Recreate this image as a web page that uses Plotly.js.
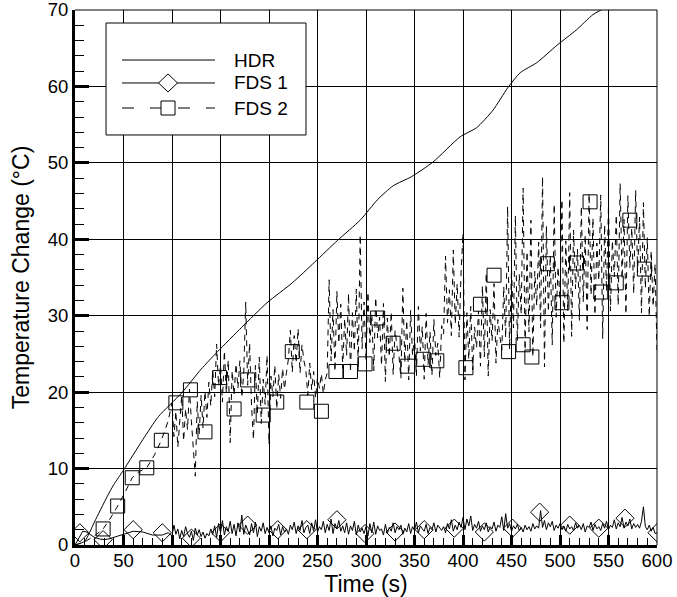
<!DOCTYPE html>
<html>
<head>
<meta charset="utf-8">
<script src="https://cdn.plot.ly/plotly-3.0.1.min.js"></script>
<style>html,body{margin:0;padding:0;background:#fff;}#chart{width:677px;height:597px;}</style>
</head>
<body>
<div id="chart"></div>
<script>
// ---- HDR (measured) ----
const hdrTime = [0, 10, 20, 33, 40, 50, 70, 86, 110, 130, 147, 172, 198, 224, 247, 271, 294, 312, 328, 347, 369, 397, 414, 431, 446, 459, 476, 497, 517, 534, 548, 600];
const hdrTemp = [0, 0.5, 3.0, 6.3, 7.9, 9.8, 13.8, 16.8, 19.9, 23.0, 25.3, 28.5, 31.7, 34.3, 37.0, 39.9, 42.5, 45.2, 47.0, 48.2, 50.1, 53.4, 54.6, 56.9, 59.8, 61.8, 63.1, 65.4, 67.4, 69.4, 70.4, 75.0];

// ---- FDS 1 ----
const fds1EarlyTime = [0, 4, 8, 12, 16, 20, 25, 30, 35, 40, 50, 60, 70, 80, 90, 96];
const fds1EarlyTemp = [0, 0.9, 1.8, 1.7, 1.3, 1.0, 0.8, 0.7, 0.8, 1.0, 1.3, 1.8, 1.7, 1.3, 1.3, 1.6];
const fds1Start = 100, fds1Step = 2;
const fds1Temp = [
  1.2, 2.6, 1.4, 2.1, 0.8, 1.9, 1.1, 2.4, 1.5, 1.0,
  1.8, 0.6, 2.2, 1.3, 2.0, 1.1, 1.7, 0.9, 1.5, 1.2,
  2.1, 1.4, 2.5, 1.0, 2.8, 1.6, 3.2, 1.3, 2.4, 1.8,
  3.1, 1.5, 2.7, 1.2, 2.9, 1.7, 3.9, 1.4, 2.6, 2.0,
  1.3, 2.8, 1.6, 3.0, 1.1, 2.4, 1.8, 2.9, 1.5, 2.3,
  1.6, 2.5, 1.2, 2.2, 1.9, 2.7, 1.3, 2.4, 1.7, 2.1,
  1.4, 2.6, 2.0, 3.0, 1.5, 2.5, 1.9, 3.2, 1.6, 2.3,
  2.6, 1.5, 2.9, 1.8, 3.3, 1.7, 2.4, 2.0, 3.1, 1.6,
  2.7, 1.9, 3.4, 1.5, 2.8, 2.1, 3.2, 1.8, 2.5, 1.6,
  2.9, 1.4, 2.5, 1.9, 3.1, 1.3, 2.6, 1.7, 2.2, 1.5,
  2.4, 1.2, 2.8, 1.6, 3.0, 1.4, 2.5, 1.9, 2.1, 1.3,
  2.7, 1.5, 2.3, 1.8, 2.9, 1.6, 2.4, 2.0, 2.6, 1.4,
  2.2, 1.7, 2.8, 1.5, 2.4, 1.9, 3.0, 1.6, 2.5, 2.1,
  1.8, 2.7, 1.5, 2.3, 2.0, 2.9, 1.7, 2.6, 2.2, 1.9,
  2.4, 1.6, 2.8, 2.1, 3.3, 1.8, 2.6, 2.0, 3.0, 2.3,
  3.6, 2.0, 3.4, 2.5, 3.8, 1.9, 2.7, 2.2, 3.1, 1.8,
  2.5, 2.0, 2.9, 1.7, 2.4, 2.1, 3.0, 1.8, 2.6, 2.3,
  3.7, 1.9, 4.1, 2.2, 2.8, 1.8, 2.5, 2.1, 2.7, 1.9,
  2.3, 1.7, 2.6, 2.0, 2.4, 1.8, 2.8, 2.1, 2.5, 2.2,
  4.5, 2.3, 3.2, 2.0, 2.9, 2.4, 3.1, 1.9, 2.6, 2.2,
  2.8, 2.0, 2.5, 1.8, 2.7, 2.1, 2.4, 1.9, 2.9, 2.2,
  2.6, 2.0, 2.8, 1.7, 2.5, 2.3, 3.0, 1.9, 2.7, 2.1,
  2.4, 1.9, 2.8, 2.2, 3.1, 2.0, 2.6, 2.3, 3.3, 2.1,
  2.9, 2.4, 3.6, 2.2, 3.0, 2.5, 3.4, 2.1, 2.8, 2.3,
  2.7, 2.2, 3.1, 5.0, 2.4, 2.0, 2.6, 1.8, 2.3, 1.5,
  1.6
];
const fds1MarkTime = [5, 29, 60, 90, 120, 150, 178, 209, 239, 270, 299, 330, 360, 391, 422, 451, 479, 510, 540, 567, 600];
const fds1MarkTemp = [1.6, 0.7, 2.0, 1.6, 0.9, 1.6, 2.6, 2.0, 2.0, 3.3, 1.5, 1.7, 2.0, 2.2, 1.7, 2.2, 4.3, 2.6, 2.2, 3.5, 1.6];

// ---- FDS 2 ----
const fds2EarlyTime = [0, 10, 20, 29, 36, 44, 52, 59, 66, 74, 82, 89, 96];
const fds2EarlyTemp = [0, 0.4, 1.2, 2.1, 3.4, 5.1, 7.0, 8.8, 9.6, 10.1, 11.8, 13.7, 16.2];
const fds2Start = 100, fds2Step = 2;
const fds2Temp = [
  18.6, 14.2, 17.5, 12.8, 16.9, 19.5, 13.6, 17.8, 15.1, 20.4,
  16.2, 12.4, 9.0, 18.8, 14.5, 19.6, 15.3, 20.1, 16.7, 21.3,
  18.2, 22.9, 19.4, 26.3, 20.8, 23.5, 18.7, 25.4, 19.9, 24.2,
  13.4, 22.8, 19.6, 23.7, 20.5, 24.1, 19.3, 22.6, 31.8, 20.9,
  26.4, 18.2, 13.8, 23.5, 17.1, 24.6, 15.9, 21.7, 18.4, 24.8,
  13.2, 22.1, 19.4, 23.5, 17.8, 22.3, 19.2, 23.1, 20.4, 22.6,
  24.3, 28.1, 22.6, 27.4, 23.8, 28.3, 22.5, 26.2, 24.1, 22.9,
  19.6, 23.8, 20.3, 22.7, 19.2, 21.9, 20.5, 22.4, 19.8, 21.6,
  22.5, 34.7, 24.1, 30.8, 22.7, 33.2, 26.4, 31.5, 23.1, 29.6,
  24.8, 32.9, 22.6, 30.4, 25.3, 33.5, 23.2, 40.6, 25.7, 31.8,
  24.2, 33.1, 26.5, 30.2, 22.8, 32.4, 27.1, 29.8, 23.5, 31.6,
  21.4, 29.7, 24.6, 30.5, 22.3, 28.1, 25.9, 24.7, 21.8, 33.6,
  23.9, 29.4, 21.6, 30.7, 24.8, 27.3, 22.1, 31.2, 25.4, 28.6,
  21.7, 30.3, 23.6, 27.9, 22.2, 29.5, 24.8, 26.4, 21.9, 28.7,
  27.6, 37.8, 29.1, 33.4, 27.4, 38.6, 28.9, 34.2, 27.2, 35.6,
  40.8, 21.6, 30.4, 24.3, 31.2, 22.9, 28.5, 25.8, 30.6, 23.4,
  33.9, 24.6, 35.6, 22.1, 30.8, 26.7, 34.2, 23.8, 29.5, 27.3,
  25.5, 33.8, 27.1, 44.3, 25.6, 36.2, 28.4, 43.1, 26.7, 35.4,
  30.2, 46.7, 25.5, 38.4, 27.9, 42.5, 24.6, 35.8, 31.3, 39.6,
  28.4, 48.2, 23.3, 41.7, 30.5, 37.9, 26.2, 44.6, 29.8, 36.4,
  32.1, 45.2, 26.4, 39.8, 30.6, 46.1, 27.3, 41.2, 33.5, 38.7,
  29.4, 44.3, 31.8, 40.6, 28.2, 46.0, 32.7, 42.8, 30.1, 39.5,
  34.6, 45.8, 27.0, 41.9, 33.2, 44.5, 30.6, 39.8, 35.1, 43.2,
  31.4, 47.3, 34.8, 42.6, 30.2, 45.7, 36.3, 41.5, 32.9, 46.4,
  35.7, 42.9, 30.4, 44.8, 33.6, 40.2, 29.9, 38.5, 31.2, 36.8,
  25.5
];
const fds2MarkTime = [29, 44, 59, 74, 89, 104, 119, 134, 149, 164, 178, 194, 208, 224, 239, 254, 269, 284, 299, 312, 328, 343, 359, 373, 403, 418, 432, 447, 462, 471, 487, 502, 517, 531, 542, 558, 572, 587];
const fds2MarkTemp = [2.1, 5.1, 8.8, 10.1, 13.7, 18.6, 20.3, 14.8, 21.9, 17.8, 21.6, 17.0, 18.7, 25.3, 18.7, 17.5, 22.7, 22.7, 23.7, 29.7, 26.4, 23.4, 24.3, 24.1, 23.2, 31.5, 35.3, 25.3, 26.2, 24.6, 36.8, 31.7, 36.9, 44.9, 33.1, 34.3, 42.5, 36.1];

// ---- tick labels / legend labels ----
const xTickVals = [0, 50, 100, 150, 200, 250, 300, 350, 400, 450, 500, 550, 600];
const yTickVals = [0, 10, 20, 30, 40, 50, 60, 70];
const seriesNames = ['HDR', 'FDS 1', 'FDS 2'];

const fds1Time = fds1EarlyTime.concat(fds1Temp.map((_, i) => fds1Start + fds1Step * i));
const fds1All = fds1EarlyTemp.concat(fds1Temp);
const fds2Time = fds2EarlyTime.concat(fds2Temp.map((_, i) => fds2Start + fds2Step * i));
const fds2All = fds2EarlyTemp.concat(fds2Temp);

const FONT = 'Liberation Sans, Arial, Helvetica, sans-serif';
const DIAMOND = {symbol: 'diamond-open', size: 14, color: '#000', line: {width: 1, color: '#000'}};
const SQUARE = {symbol: 'square-open', size: 14, color: '#000', line: {width: 1, color: '#000'}};

const traces = [
  {x: fds2Time, y: fds2All, mode: 'lines', name: seriesNames[2], line: {color: '#000', width: 1, dash: '6px,5px'}, showlegend: false, hoverinfo: 'skip'},
  {x: fds1Time, y: fds1All, mode: 'lines', name: seriesNames[1], line: {color: '#000', width: 1}, showlegend: false, hoverinfo: 'skip'},
  {x: hdrTime, y: hdrTemp, mode: 'lines', name: seriesNames[0], line: {color: '#000', width: 1, shape: 'spline', smoothing: 0.6}, showlegend: false},
  {x: fds1MarkTime, y: fds1MarkTemp, mode: 'markers', name: seriesNames[1], marker: DIAMOND, showlegend: false},
  {x: fds2MarkTime, y: fds2MarkTemp, mode: 'markers', name: seriesNames[2], marker: SQUARE, showlegend: false}
];

// ---- legend box (drawn in paper space) ----
const L = {x0: 0.0533, x1: 0.3969, y0: 0.7664, y1: 0.9757, lx0: 0.0808, lx1: 0.2405, mx: 0.1598, tx: 0.2698, rows: [0.9065, 0.8636, 0.8168]};
const legendShapes = [
  {type: 'rect', xref: 'paper', yref: 'paper', x0: L.x0, x1: L.x1, y0: L.y0, y1: L.y1, fillcolor: '#fff', line: {color: '#000', width: 1}, layer: 'above'},
  {type: 'line', xref: 'paper', yref: 'paper', x0: L.lx0, x1: L.lx1, y0: L.rows[0], y1: L.rows[0], line: {color: '#000', width: 1}},
  {type: 'line', xref: 'paper', yref: 'paper', x0: L.lx0, x1: L.lx1, y0: L.rows[1], y1: L.rows[1], line: {color: '#000', width: 1}},
  {type: 'line', xref: 'paper', yref: 'paper', x0: L.lx0, x1: L.lx1, y0: L.rows[2], y1: L.rows[2], line: {color: '#000', width: 1, dash: '12px,16px'}},
  {type: 'path', xref: 'paper', yref: 'paper', xsizemode: 'pixel', ysizemode: 'pixel', xanchor: L.mx, yanchor: L.rows[1],
   path: 'M-9.5,0 L0,9 L9.5,0 L0,-9 Z', fillcolor: '#fff', line: {color: '#000', width: 1}},
  {type: 'path', xref: 'paper', yref: 'paper', xsizemode: 'pixel', ysizemode: 'pixel', xanchor: L.mx, yanchor: L.rows[2],
   path: 'M-7,-7 L7,-7 L7,7 L-7,7 Z', fillcolor: '#fff', line: {color: '#000', width: 1}}
];
const legendAnnotations = seriesNames.map((n, i) => ({
  xref: 'paper', yref: 'paper', x: L.tx, y: L.rows[i], xanchor: 'left', yanchor: 'middle',
  text: n, showarrow: false, font: {family: FONT, size: 19, color: '#000'}
}));

const layout = {
  width: 677, height: 597,
  margin: {l: 75, r: 20, t: 10, b: 52},
  paper_bgcolor: '#fff', plot_bgcolor: '#fff',
  font: {family: FONT, color: '#000', size: 17},
  showlegend: false,
  xaxis: {
    range: [0, 600], tickvals: xTickVals, ticktext: xTickVals.map(String),
    ticks: 'inside', ticklen: 10, tickwidth: 3, tickcolor: '#000',
    showline: true, linewidth: 3, linecolor: '#000',
    showgrid: true, gridcolor: '#000', gridwidth: 1, zeroline: false,
    minor: {dtick: 10, ticks: 'inside', ticklen: 7, tickwidth: 1, tickcolor: '#000', showgrid: false},
    tickfont: {family: FONT, size: 18.5, color: '#000'},
    ticklabelstandoff: -3, ticklabeloverflow: 'allow',
    title: {text: 'Time (s)', font: {family: FONT, size: 23, color: '#000'}, standoff: 0},
    fixedrange: true
  },
  yaxis: {
    range: [0, 70], tickvals: yTickVals, ticktext: yTickVals.map(String),
    ticks: 'inside', ticklen: 14, tickwidth: 3, tickcolor: '#000',
    showline: true, linewidth: 3, linecolor: '#000',
    showgrid: true, gridcolor: '#000', gridwidth: 1, zeroline: false,
    minor: {dtick: 2, ticks: 'inside', ticklen: 9, tickwidth: 1, tickcolor: '#000', showgrid: false},
    tickfont: {family: FONT, size: 18.5, color: '#000'},
    ticklabeloverflow: 'allow',
    title: {text: 'Temperature Change (°C)', font: {family: FONT, size: 23, color: '#000'}, standoff: 12},
    fixedrange: true
  },
  shapes: [
    {type: 'line', xref: 'paper', yref: 'paper', x0: 0, x1: 1, y0: 1, y1: 1, line: {color: '#000', width: 1}},
    {type: 'line', xref: 'paper', yref: 'paper', x0: 1, x1: 1, y0: 0, y1: 1, line: {color: '#000', width: 1}}
  ].concat(legendShapes),
  annotations: legendAnnotations
};

Plotly.newPlot('chart', traces, layout, {displayModeBar: false, staticPlot: true});
</script>
</body>
</html>
